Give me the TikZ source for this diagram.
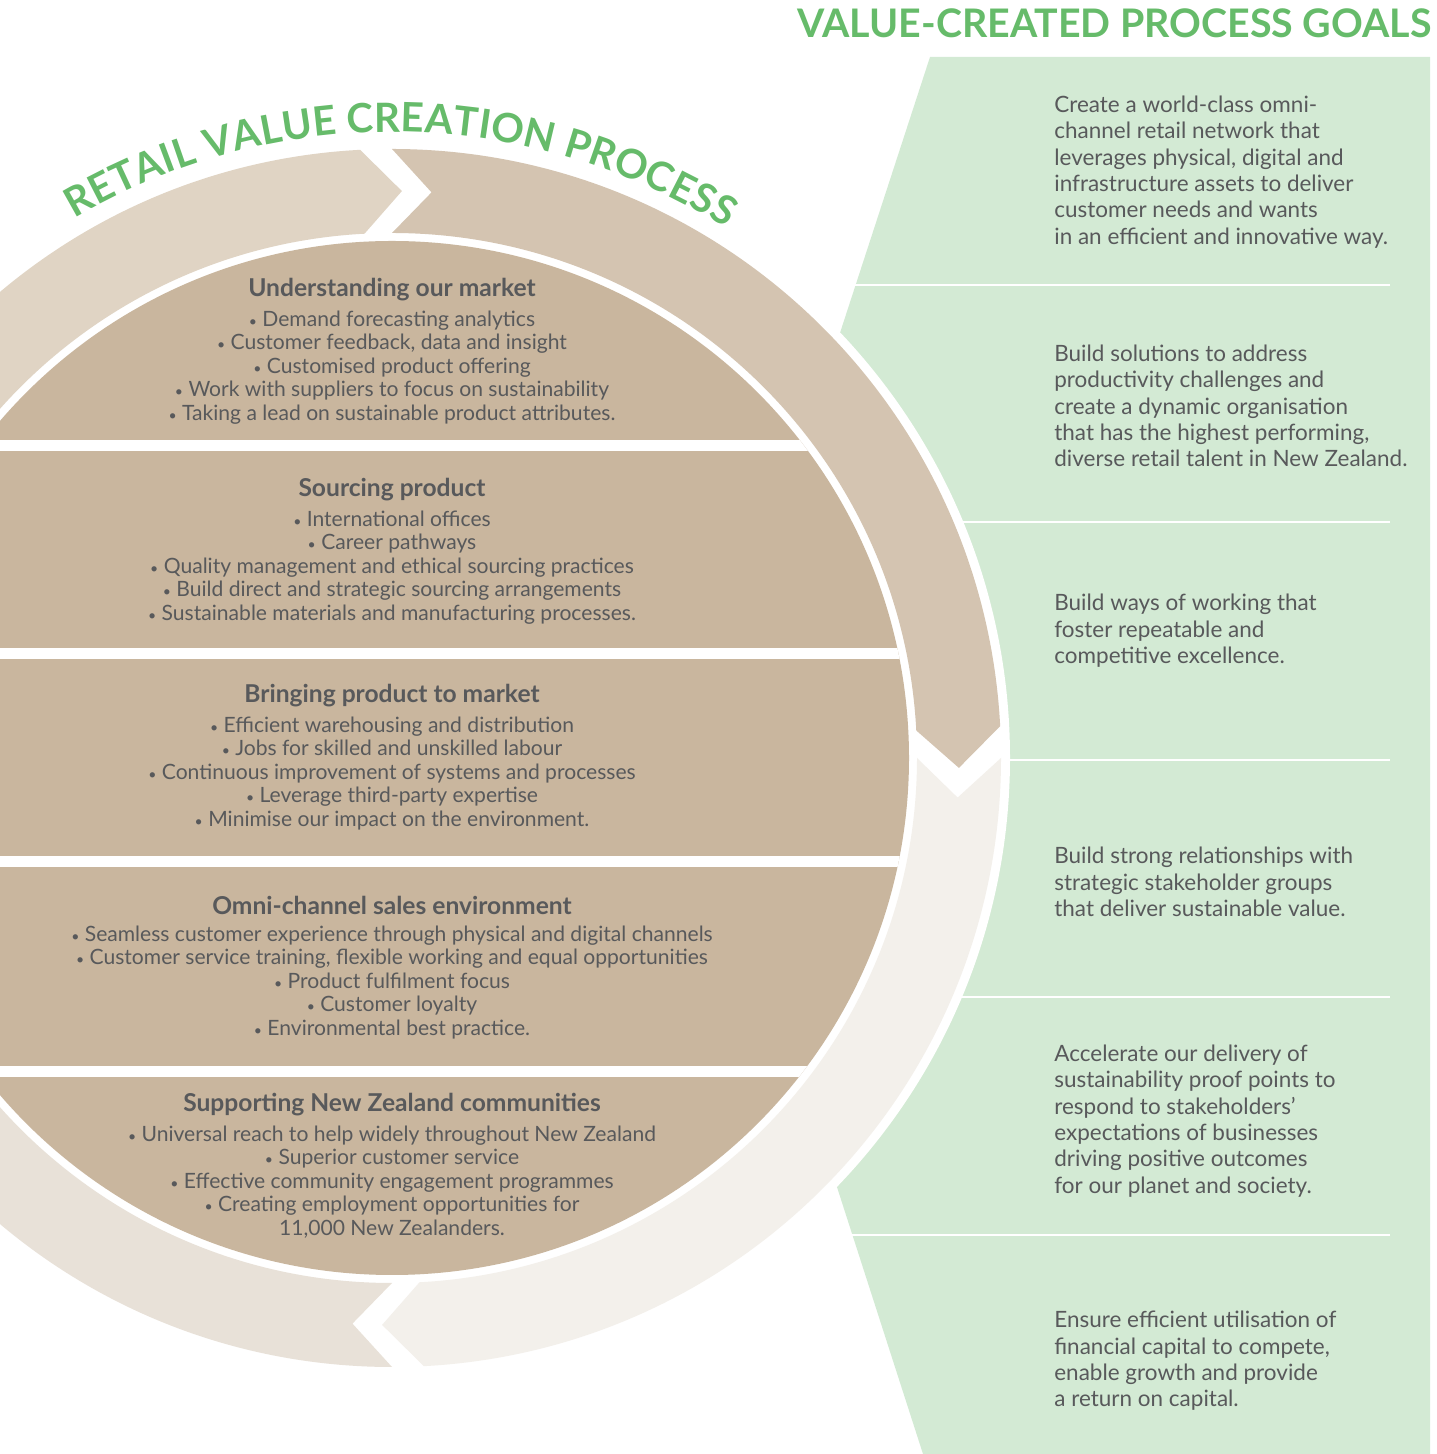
\documentclass[tikz,border=0pt]{standalone}
\usepackage{fontspec}
\setmainfont{Lato}
\usetikzlibrary{decorations.text}

\definecolor{discbrown}{HTML}{C9B69E}
\definecolor{ringA}{HTML}{E0D4C4}
\definecolor{ringB}{HTML}{D4C4B1}
\definecolor{ringC}{HTML}{F3F0EB}
\definecolor{ringD}{HTML}{E8E1D8}
\definecolor{goalgreen}{HTML}{D3EAD4}
\definecolor{titlegreen}{HTML}{66BB6A}
\definecolor{textgrey}{HTML}{58595B}

\newcommand{\bul}{{\footnotesize•}~}

\tikzset{
  seghead/.style={font=\fontsize{14}{16}\selectfont\bfseries, text=textgrey, inner sep=0pt},
  segitems/.style={font=\fontsize{12}{13.4}\selectfont, text=textgrey, align=center, inner sep=0pt},
  goaltext/.style={font=\fontsize{12.8}{15}\selectfont, text=textgrey, align=left, anchor=west, inner sep=0pt},
}

\begin{document}
\begin{tikzpicture}[x=0.02cm,y=0.02cm]
\useasboundingbox (0,0) rectangle (1437,1454);
\clip (0,0) rectangle (1437,1454);

% goals panel with its row rules
\fill[goalgreen] (930,1397) -- (1430,1397) -- (1430,0) -- (923,0) -- (700,692) -- cycle;
\foreach \y in {1169,932,694,457,219}
  \draw[white, line width=1.6pt] (700,\y) -- (1390,\y);

% ring of four arrows round the disc
\begin{scope}[shift={(392,696)}]
  \fill[white] (0,0) circle (618);
  \foreach \a/\c in {180/ringA, 90/ringB, 0/ringC, -90/ringD}{
    \pgfmathsetmacro\b{\a-90}
    \fill[\c] (\a:609) arc[start angle=\a, end angle=\b+3, radius=609]
      -- (\b-1:567) -- (\b+3:525)
      arc[start angle=\b+3, end angle=\a, radius=525]
      -- (\a-4:567) -- cycle;
  }
  \fill[discbrown] (0,0) circle (517);
  \begin{scope}
    \clip (0,0) circle (517);
    \foreach \y in {312,104,-104,-314}
      \fill[white] (-520,\y-5.5) rectangle (520,\y+5.5);
  \end{scope}
  \path[decorate, decoration={text along path, text color=titlegreen,
      text align=fit to path,
      text={|\fontsize{23}{27}\selectfont\bfseries|RETAIL VALUE CREATION PROCESS}}]
    (120.5:626) arc[start angle=120.5, end angle=57.8, radius=626];
\end{scope}

\node[anchor=base east, text=titlegreen, inner sep=0pt,
  font=\fontsize{22.4}{26}\selectfont\bfseries] (goalstitle) at (1432,1416) {VALUE-CREATED PROCESS GOALS};

% disc segments
\node[seghead] (h1) at (392,1164) {Understanding our market};
\node[segitems] (l1) at (392,1086.5) {\bul Demand forecasting analytics\\\bul Customer feedback, data and insight\\\bul Customised product offering\\\bul Work with suppliers to focus on sustainability\\\bul Taking a lead on sustainable product attributes.};
\node[seghead] (h2) at (392,964) {Sourcing product};
\node[segitems] (l2) at (392,886.5) {\bul International offices\\\bul Career pathways\\\bul Quality management and ethical sourcing practices\\\bul Build direct and strategic sourcing arrangements\\\bul Sustainable materials and manufacturing processes.};
\node[seghead] (h3) at (392,758) {Bringing product to market};
\node[segitems] (l3) at (392,680.5) {\bul Efficient warehousing and distribution\\\bul Jobs for skilled and unskilled labour\\\bul Continuous improvement of systems and processes\\\bul Leverage third-party expertise\\\bul Minimise our impact on the environment.};
\node[seghead] (h4) at (392,549) {Omni-channel sales environment};
\node[segitems] (l4) at (392,471.5) {\bul Seamless customer experience through physical and digital channels\\\bul Customer service training, flexible working and equal opportunities\\\bul Product fulfilment focus\\\bul Customer loyalty\\\bul Environmental best practice.};
\node[seghead] (h5) at (392,349) {Supporting New Zealand communities};
\node[segitems] (l5) at (392,272) {\bul Universal reach to help widely throughout New Zealand\\\bul Superior customer service\\\bul Effective community engagement programmes\\\bul Creating employment opportunities for\\11,000 New Zealanders.};

% goals
\node[goaltext] (g1) at (1054,1282) {Create a world-class omni-\\channel retail network that\\leverages physical, digital and\\infrastructure assets to deliver\\customer needs and wants\\in an efficient and innovative way.};
\node[goaltext] (g2) at (1054,1048) {Build solutions to address\\productivity challenges and\\create a dynamic organisation\\that has the highest performing,\\diverse retail talent in New Zealand.};
\node[goaltext] (g3) at (1054,823) {Build ways of working that\\foster repeatable and\\competitive excellence.};
\node[goaltext] (g4) at (1054,572) {Build strong relationships with\\strategic stakeholder groups\\that deliver sustainable value.};
\node[goaltext] (g5) at (1054,333) {Accelerate our delivery of\\sustainability proof points to\\respond to stakeholders’\\expectations of businesses\\driving positive outcomes\\for our planet and society.};
\node[goaltext] (g6) at (1054,93) {Ensure efficient utilisation of\\financial capital to compete,\\enable growth and provide\\a return on capital.};
\end{tikzpicture}
\end{document}
